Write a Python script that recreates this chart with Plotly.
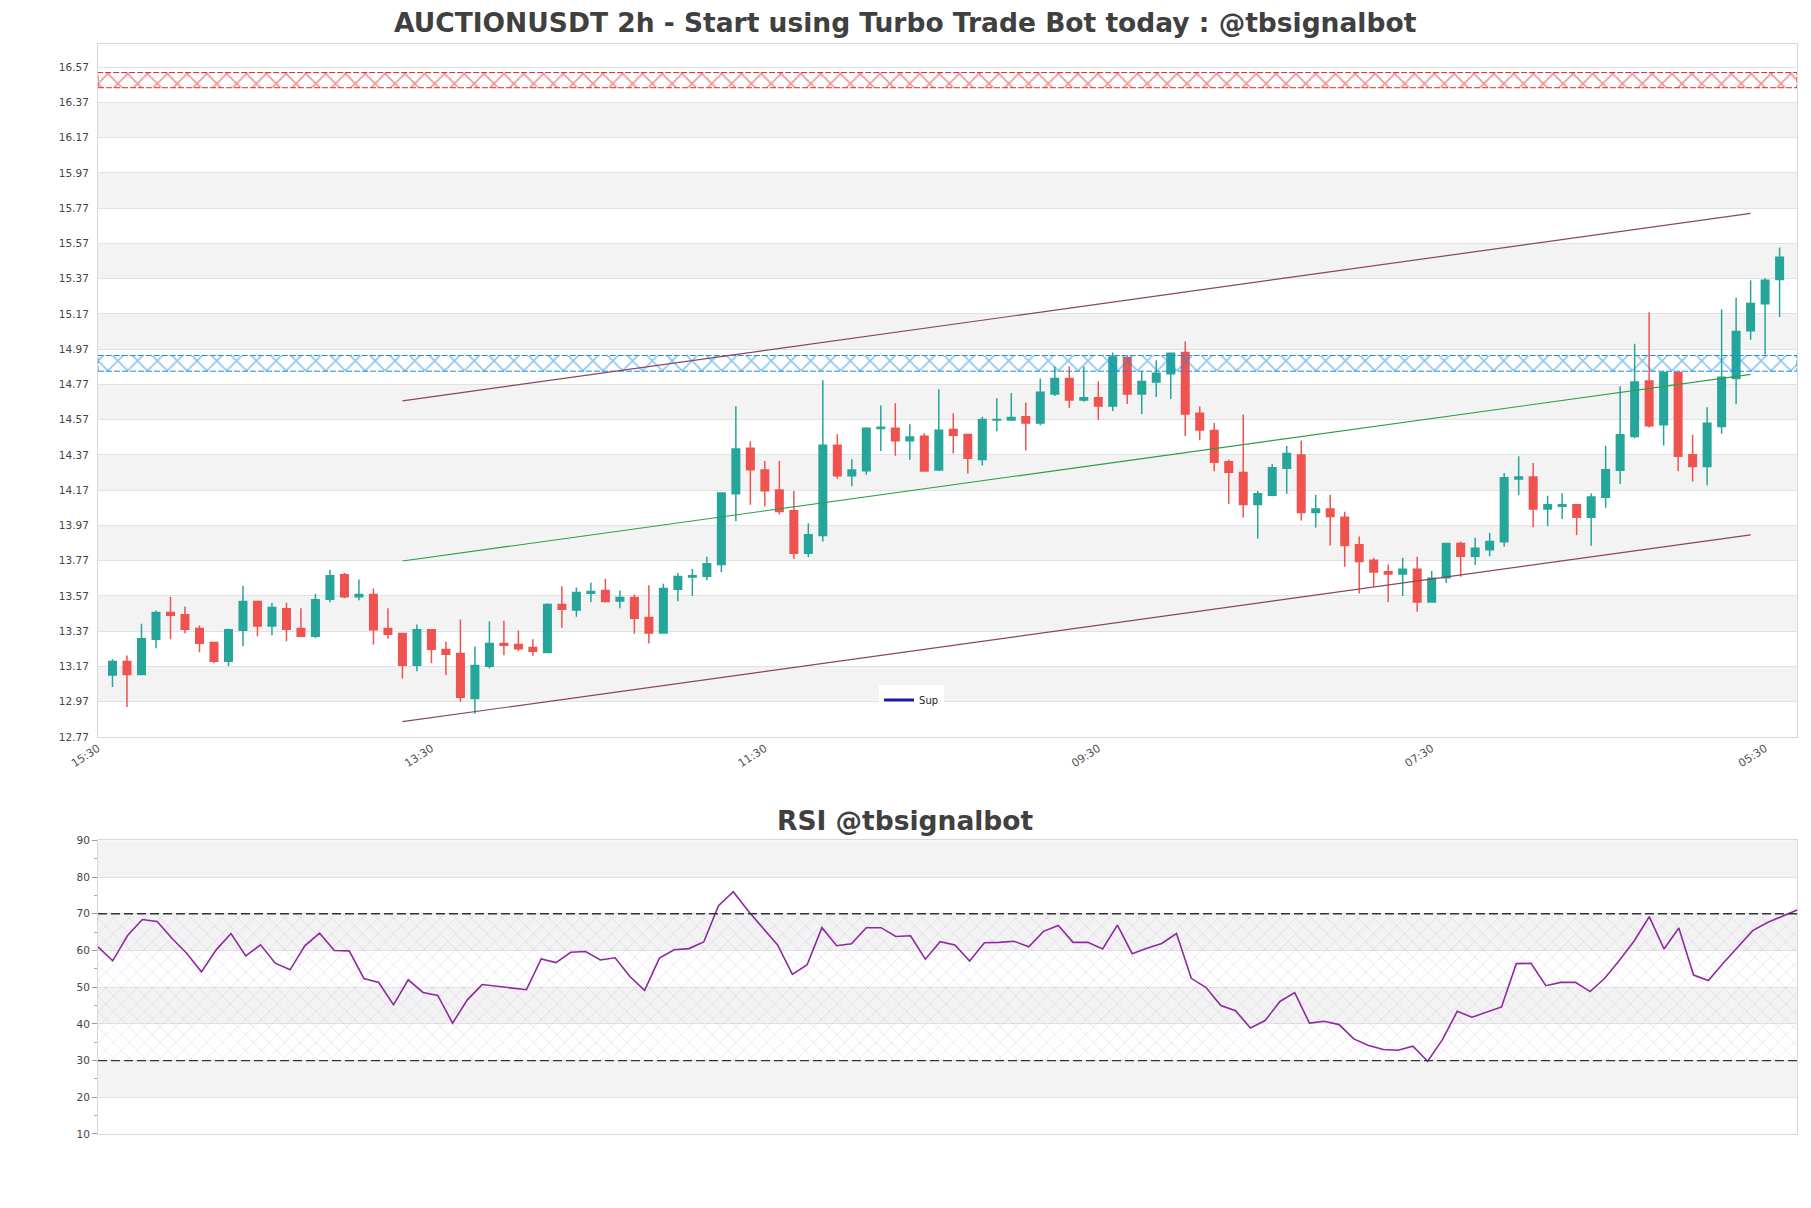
import plotly.graph_objects as go

title_text = "AUCTIONUSDT 2h - Start using Turbo Trade Bot today : @tbsignalbot"
rsi_title = "RSI @tbsignalbot"

opens = [13.121, 13.198, 13.125, 13.325, 13.476, 13.464, 13.385, 13.306, 13.200, 13.376,
         13.538, 13.400, 13.498, 13.385, 13.342, 13.551, 13.691, 13.566, 13.578, 13.385,
         13.357, 13.177, 13.379, 13.266, 13.243, 12.989, 13.172, 13.300, 13.294, 13.277,
         13.250, 13.522, 13.490, 13.586, 13.601, 13.542, 13.561, 13.448, 13.360, 13.608,
         13.678, 13.682, 13.749, 14.150, 14.408, 14.284, 14.171, 14.053, 13.812, 13.913,
         14.425, 14.252, 14.280, 14.520, 14.521, 14.450, 14.476, 14.284, 14.514, 14.486,
         14.344, 14.568, 14.568, 14.587, 14.551, 14.716, 14.803, 14.682, 14.695, 14.647,
         14.923, 14.716, 14.784, 14.831, 14.951, 14.606, 14.509, 14.332, 14.270, 14.089,
         14.141, 14.294, 14.370, 14.044, 14.063, 14.017, 13.860, 13.772, 13.708, 13.694,
         13.721, 13.536, 13.674, 13.868, 13.796, 13.832, 13.877, 14.234, 14.245, 14.064,
         14.079, 14.088, 14.017, 14.130, 14.283, 14.475, 14.790, 14.541, 14.837, 14.371,
         14.305, 14.531, 14.803, 15.074, 15.227, 15.365]
highs = [13.213, 13.232, 13.413, 13.487, 13.566, 13.510, 13.402, 13.310, 13.385, 13.628,
         13.544, 13.532, 13.532, 13.500, 13.583, 13.719, 13.702, 13.664, 13.613, 13.500,
         13.357, 13.408, 13.379, 13.311, 13.436, 13.283, 13.425, 13.430, 13.374, 13.325,
         13.529, 13.625, 13.618, 13.646, 13.668, 13.601, 13.578, 13.631, 13.640, 13.702,
         13.725, 13.793, 14.154, 14.646, 14.448, 14.335, 14.335, 14.166, 13.983, 14.793,
         14.488, 14.346, 14.527, 14.651, 14.663, 14.544, 14.493, 14.742, 14.606, 14.486,
         14.587, 14.691, 14.721, 14.668, 14.803, 14.871, 14.871, 14.871, 14.786, 14.951,
         14.932, 14.847, 14.907, 14.951, 15.014, 14.645, 14.551, 14.342, 14.600, 14.165,
         14.319, 14.421, 14.452, 14.144, 14.144, 14.048, 13.907, 13.787, 13.749, 13.787,
         13.792, 13.711, 13.868, 13.879, 13.900, 13.928, 14.267, 14.362, 14.324, 14.139,
         14.152, 14.088, 14.151, 14.422, 14.759, 15.000, 15.180, 14.846, 14.842, 14.484,
         14.641, 15.197, 15.261, 15.361, 15.374, 15.547]
lows = [13.053, 12.940, 13.120, 13.274, 13.325, 13.359, 13.251, 13.189, 13.172, 13.285,
        13.342, 13.347, 13.313, 13.342, 13.330, 13.534, 13.557, 13.545, 13.294, 13.328,
        13.102, 13.143, 13.189, 13.121, 12.970, 12.902, 13.160, 13.234, 13.257, 13.231,
        13.246, 13.390, 13.452, 13.535, 13.533, 13.501, 13.356, 13.300, 13.356, 13.540,
        13.570, 13.659, 13.704, 13.994, 14.088, 14.077, 14.032, 13.780, 13.789, 13.879,
        14.235, 14.192, 14.258, 14.393, 14.365, 14.343, 14.275, 14.279, 14.378, 14.264,
        14.310, 14.505, 14.568, 14.395, 14.539, 14.704, 14.636, 14.672, 14.570, 14.619,
        14.659, 14.602, 14.699, 14.687, 14.477, 14.454, 14.277, 14.091, 14.015, 13.896,
        14.135, 14.150, 13.998, 13.958, 13.856, 13.736, 13.584, 13.623, 13.536, 13.570,
        13.481, 13.536, 13.643, 13.679, 13.745, 13.796, 13.849, 14.143, 13.960, 13.966,
        14.007, 13.915, 13.855, 14.070, 14.205, 14.465, 14.526, 14.424, 14.277, 14.220,
        14.198, 14.490, 14.658, 15.023, 14.939, 15.153]
closes = [13.198, 13.125, 13.328, 13.476, 13.461, 13.381, 13.302, 13.200, 13.379, 13.538,
          13.400, 13.504, 13.381, 13.342, 13.549, 13.685, 13.566, 13.578, 13.379, 13.353,
          13.177, 13.379, 13.268, 13.240, 12.996, 13.176, 13.300, 13.291, 13.270, 13.256,
          13.522, 13.495, 13.590, 13.595, 13.539, 13.561, 13.444, 13.360, 13.612, 13.680,
          13.685, 13.753, 14.154, 14.403, 14.286, 14.167, 14.049, 13.812, 13.917, 14.425,
          14.252, 14.284, 14.521, 14.527, 14.450, 14.472, 14.279, 14.510, 14.482, 14.351,
          14.571, 14.571, 14.583, 14.551, 14.725, 14.803, 14.682, 14.695, 14.647, 14.926,
          14.716, 14.786, 14.833, 14.947, 14.602, 14.511, 14.328, 14.272, 14.089, 14.150,
          14.298, 14.378, 14.044, 14.063, 14.021, 13.856, 13.765, 13.706, 13.694, 13.721,
          13.536, 13.670, 13.868, 13.796, 13.840, 13.879, 14.241, 14.245, 14.064, 14.088,
          14.088, 14.017, 14.132, 14.286, 14.484, 14.784, 14.535, 14.837, 14.362, 14.305,
          14.550, 14.810, 15.070, 15.229, 15.361, 15.491]

rsi = [60.97, 57.17, 64.06, 68.41, 67.87, 63.33, 59.25, 54.17, 60.16, 64.60,
       58.53, 61.52, 56.53, 54.72, 61.25, 64.69, 59.98, 59.89, 52.36, 51.27,
       45.19, 51.99, 48.55, 47.73, 40.20, 46.55, 50.70, 50.30, 49.80, 49.30,
       57.70, 56.70, 59.50, 59.70, 57.40, 58.00, 52.90, 49.10, 57.90, 60.20,
       60.50, 62.30, 72.20, 76.00, 70.80, 66.00, 61.50, 53.50, 56.10, 66.20,
       61.30, 61.80, 66.20, 66.20, 63.80, 64.00, 57.60, 62.40, 61.50, 57.10,
       62.10, 62.20, 62.50, 61.00, 65.20, 66.80, 62.20, 62.20, 60.40, 66.90,
       59.10, 60.60, 61.90, 64.60, 52.40, 49.90, 45.00, 43.60, 38.90, 40.90,
       46.10, 48.50, 40.20, 40.70, 39.80, 35.90, 34.10, 33.00, 32.80, 33.90,
       29.80, 35.70, 43.40, 41.80, 43.10, 44.60, 56.40, 56.50, 50.40, 51.30,
       51.30, 48.80, 52.50, 57.40, 62.70, 69.20, 60.40, 66.10, 53.30, 51.80,
       56.50, 60.90, 65.40, 67.60, 69.40, 71.00]

time_tick_pos = [-1, 22, 45, 68, 91, 114]
time_tick_labels = ["15:30", "13:30", "11:30", "09:30", "07:30", "05:30"]
price_ticks = [12.77, 12.97, 13.17, 13.37, 13.57, 13.77, 13.97, 14.17, 14.37, 14.57,
               14.77, 14.97, 15.17, 15.37, 15.57, 15.77, 15.97, 16.17, 16.37, 16.57]
price_tick_labels = ["12.77", "12.97", "13.17", "13.37", "13.57", "13.77", "13.97", "14.17",
                     "14.37", "14.57", "14.77", "14.97", "15.17", "15.37", "15.57", "15.77",
                     "15.97", "16.17", "16.37", "16.57"]
rsi_ticks = [10, 20, 30, 40, 50, 60, 70, 80, 90]

channel_x = [20, 113]
upper_channel = [14.677, 15.740]
mid_channel = [13.768, 14.827]
lower_channel = [12.857, 13.917]

resistance_zone = [16.453, 16.539]
support_zone = [14.845, 14.934]
rsi_zone = [30, 70]

x_range = [-1.0, 116.2]
y_range = [12.77, 16.701]
n = len(closes)
xs = list(range(n))

FONT = "DejaVu Sans"
GRID = "#e2e2e2"
BAND = "#f3f3f3"
BORDER = "#d8d8d8"

fig = go.Figure()

# hatched zones
for zone, col in [(resistance_zone, "#e0282c"), (support_zone, "#1a8ee0")]:
    fig.add_trace(go.Scatter(
        x=[x_range[0], x_range[1], x_range[1], x_range[0], x_range[0]],
        y=[zone[0], zone[0], zone[1], zone[1], zone[0]],
        fill="toself", mode="lines", line=dict(width=1, color=col, dash="6px,2px"),
        fillcolor="rgba(255,255,255,0)",
        fillpattern=dict(shape="x", fgcolor=col, bgcolor="rgba(255,255,255,0)", size=14, solidity=0.22),
        hoverinfo="skip", showlegend=False, xaxis="x", yaxis="y"))

# channel lines
fig.add_trace(go.Scatter(x=channel_x, y=upper_channel, mode="lines",
                         line=dict(color="#8a4562", width=1.2), showlegend=False, hoverinfo="skip"))
fig.add_trace(go.Scatter(x=channel_x, y=mid_channel, mode="lines",
                         line=dict(color="#2f9e44", width=1.1), showlegend=False, hoverinfo="skip"))
fig.add_trace(go.Scatter(x=channel_x, y=lower_channel, mode="lines",
                         line=dict(color="#8a4562", width=1.2), showlegend=False, hoverinfo="skip"))

fig.add_trace(go.Candlestick(
    x=xs, open=opens, high=highs, low=lows, close=closes,
    increasing=dict(line=dict(color="#26a69a", width=1.5), fillcolor="#26a69a"),
    decreasing=dict(line=dict(color="#ef5350", width=1.5), fillcolor="#ef5350"),
    whiskerwidth=0, showlegend=False, hoverinfo="skip", xaxis="x", yaxis="y"))

fig.add_trace(go.Scatter(x=[None], y=[None], mode="lines", name="Sup",
                         line=dict(color="#1a1aa8", width=3), showlegend=True))

# RSI
rsi_x = list(range(len(rsi)))
fig.add_trace(go.Scatter(
    x=[rsi_x[0], rsi_x[-1], rsi_x[-1], rsi_x[0], rsi_x[0]],
    y=[rsi_zone[0], rsi_zone[0], rsi_zone[1], rsi_zone[1], rsi_zone[0]],
    fill="toself", mode="lines", line=dict(width=0),
    fillcolor="rgba(255,255,255,0)",
    fillpattern=dict(shape="x", fgcolor="rgba(175,145,200,0.75)", bgcolor="rgba(255,255,255,0)", size=11, solidity=0.1),
    hoverinfo="skip", showlegend=False, xaxis="x2", yaxis="y2"))
fig.add_trace(go.Scatter(x=rsi_x, y=rsi, mode="lines", line=dict(color="#8e2a9e", width=1.6),
                         showlegend=False, hoverinfo="skip", xaxis="x2", yaxis="y2"))

shapes = []
for k in range(1, len(price_ticks) - 1, 2):
    shapes.append(dict(type="rect", xref="x domain", yref="y", x0=0, x1=1,
                       y0=price_ticks[k], y1=price_ticks[k + 1], fillcolor=BAND,
                       line=dict(width=0), layer="below"))
for k in range(1, len(rsi_ticks) - 1, 2):
    shapes.append(dict(type="rect", xref="x2 domain", yref="y2", x0=0, x1=1,
                       y0=rsi_ticks[k], y1=rsi_ticks[k + 1], fillcolor=BAND,
                       line=dict(width=0), layer="below"))
for lv in rsi_zone:
    shapes.append(dict(type="line", xref="x2 domain", yref="y2", x0=0, x1=1, y0=lv, y1=lv,
                       line=dict(color="#333333", width=1.3, dash="9px,4px"), layer="above"))

main_dom = [0.36422, 1.0]
rsi_dom = [0.0, 0.26945]
title_x = 0.4753  # page centre expressed in plot-area fraction

fig.update_layout(
    width=1811, height=1208,
    margin=dict(l=98, r=14, t=44, b=74),
    paper_bgcolor="white", plot_bgcolor="white",
    font=dict(family=FONT, size=11, color="#444444"),
    boxgap=0.26,
    shapes=shapes,
    showlegend=True,
    legend=dict(x=0.4597, y=0.4115, xanchor="left", yanchor="top", bgcolor="white",
                font=dict(size=10, color="#222222", family=FONT), itemwidth=30,
                tracegroupgap=0),
    xaxis=dict(domain=[0, 1], anchor="y", range=x_range, rangeslider=dict(visible=False),
               showgrid=False, zeroline=False, tickmode="array", tickvals=time_tick_pos,
               ticktext=time_tick_labels, tickangle=-33, tickfont=dict(size=11, color="#555555"),
               showline=True, mirror=True, linecolor=BORDER, linewidth=1, ticks=""),
    yaxis=dict(domain=main_dom, anchor="x", range=y_range, tickmode="array",
               tickvals=price_ticks, ticktext=price_tick_labels, gridcolor=GRID, gridwidth=1,
               zeroline=False, showline=True, mirror=True, linecolor=BORDER,
               tickfont=dict(size=10.5, color="#444444"), ticks="outside", ticklen=6,
               tickcolor="rgba(0,0,0,0)"),
    xaxis2=dict(domain=[0, 1], anchor="y2", range=[rsi_x[0], rsi_x[-1]], showgrid=False,
                zeroline=False, showticklabels=False, showline=True, mirror=True,
                linecolor=BORDER, ticks=""),
    yaxis2=dict(domain=rsi_dom, anchor="x2", range=[10, 90], tickmode="array",
                tickvals=rsi_ticks, gridcolor=GRID, zeroline=False, showline=True,
                mirror=True, linecolor=BORDER, ticks="outside", ticklen=5, tickcolor="#999999",
                tickfont=dict(size=10.5, color="#444444"),
                minor=dict(dtick=5, ticks="outside", ticklen=3, tickcolor="#aaaaaa", showgrid=False)),
    annotations=[
        dict(text="<b>" + title_text + "</b>", xref="paper", yref="paper", x=title_x, y=1.0193,
             xanchor="center", yanchor="middle", showarrow=False,
             font=dict(family=FONT, size=26.5, color="#404040")),
        dict(text="<b>" + rsi_title + "</b>", xref="paper", yref="paper", x=title_x, y=0.288,
             xanchor="center", yanchor="middle", showarrow=False,
             font=dict(family=FONT, size=26.5, color="#404040")),
    ],
)

fig.write_html("out.html")
